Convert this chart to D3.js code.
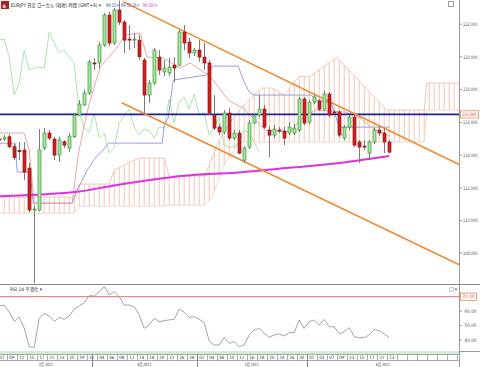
<!DOCTYPE html>
<html><head><meta charset="utf-8">
<script src="https://cdn.jsdelivr.net/npm/d3@7"></script>
<style>html,body{margin:0;padding:0;background:#fff;}svg{display:block;font-family:"DejaVu Sans","Noto Sans CJK JP",sans-serif;}</style>
</head><body><svg id="c" width="480" height="367"></svg>
<script>
// ---- data ----
const dayLabels = ["07","09","11","15","17","21","23","25","29","31","04","06","08","12","14","18","20","22","26","28","02","04","06","10","12","16","18","20","24","26","30","01","03","07","09","13","15","17","21","23"];
const months = ["3月 2011","4月 2011","5月 2011","6月 2011"];
const monthStartSlot = [-0.5, 18.5, 39.5, 61.5];
const openP  = [114.98,114.98,115.12,114.51,114.28,114.31,113.20,110.64,110.64,114.43,115.35,114.98,114.00,114.81,114.43,115.12,116.45,117.06,117.79,119.63,119.63,120.73,122.56,120.85,122.87,122.13,121.09,121.03,121.03,119.81,117.67,118.40,119.99,119.08,119.02,119.50,119.50,121.52,120.91,120.24,120.42,119.99,119.63,116.45,115.71,115.41,116.57,115.04,115.35,113.69,114.49,115.96,116.45,116.81,115.53,115.22,115.53,115.47,115.35,115.35,115.53,117.43,116.02,117.24,117.30,116.81,117.73,116.63,116.63,115.04,115.71,116.32,114.80,114.55,114.12,114.80,115.53,115.35,114.80];
const highP  = [115.10,115.22,115.28,114.67,114.80,114.80,113.51,110.94,115.59,115.65,115.53,115.12,115.12,114.92,115.35,116.57,117.36,117.98,119.81,119.93,120.91,122.68,122.75,122.98,123.45,122.26,121.95,121.46,121.34,119.93,118.59,120.54,120.42,119.81,119.93,119.99,121.65,121.95,121.16,120.54,121.03,120.85,119.81,117.67,115.90,116.75,116.87,115.53,115.53,114.55,116.14,116.51,117.67,117.06,115.77,115.83,115.71,115.71,116.02,115.90,117.55,117.55,117.36,117.67,117.43,117.93,117.85,116.75,116.75,115.83,116.45,116.45,114.92,114.92,114.92,115.65,115.77,115.65,114.92];
const lowP   = [114.86,114.86,114.43,113.69,113.69,112.47,110.51,106.17,110.57,114.31,114.92,113.69,113.59,114.43,114.20,115.04,116.39,116.99,117.67,119.20,119.32,120.61,120.67,120.73,121.95,120.24,120.42,120.54,119.81,116.57,117.18,118.28,118.89,118.83,118.83,118.47,119.44,120.42,119.93,120.05,119.69,119.20,116.45,115.53,115.22,115.28,114.92,114.92,114.06,113.51,114.37,115.90,116.32,115.59,113.88,115.04,115.35,114.61,115.22,115.22,115.41,115.83,115.90,117.12,116.69,116.69,116.32,116.51,115.10,114.92,115.53,114.49,113.51,114.31,113.69,114.67,115.16,114.12,114.12];
const closeP = [114.95,115.06,114.51,113.86,114.21,112.96,110.64,110.70,114.31,115.35,115.04,114.00,114.92,114.61,115.16,116.45,117.12,117.79,119.69,119.60,120.73,122.56,120.85,122.87,122.13,121.03,121.03,121.09,120.01,117.67,118.40,120.42,119.20,119.32,119.38,119.32,121.52,120.85,120.24,120.42,119.99,119.63,116.57,115.65,115.41,116.57,115.04,115.35,114.12,114.43,115.96,116.39,116.81,115.71,115.22,115.59,115.50,115.04,115.71,115.65,117.43,115.96,117.24,117.55,116.81,117.73,116.45,116.60,115.22,115.71,116.32,114.61,114.49,114.52,114.80,115.53,115.35,114.80,114.18];
const rsiV = [63.6,64.2,59.4,52.7,55.9,48.3,35.4,34.9,55.0,58.5,56.6,52.7,55.7,54.3,56.6,61.3,63.6,65.8,70.7,70.5,73.5,76.9,71.2,73.5,70.0,64.2,64.2,63.1,57.3,48.1,50.4,55.0,52.7,53.4,53.9,54.3,61.5,59.2,55.7,56.1,54.3,52.0,39.3,36.5,36.5,41.9,37.7,38.8,35.4,36.5,43.5,46.9,48.1,44.6,41.9,43.5,44.2,42.8,45.1,45.1,53.9,48.1,52.7,53.9,50.4,54.3,49.2,49.2,44.2,45.8,48.5,42.3,41.6,41.6,43.5,47.4,46.4,44.2,41.6];
// indicator lines: [slot, price]
const tenkan = [[0,115.35],[5,115.35],[6,114.31],[7,111.06],[14.6,111.06],[15.8,114.00],[17.2,116.14],[18.2,117.36],[20.2,119.38],[23.2,120.42],[25.2,121.34],[28.2,121.46],[29.6,119.99],[32.8,119.93],[36.2,119.32],[38.2,119.63],[41.2,119.02],[42.8,118.59],[45.8,117.36],[48.8,116.87],[51.2,116.14],[53.2,115.53],[58.2,115.41],[60.2,116.14],[63.2,116.75],[69.2,116.63],[72.2,116.26],[74.6,115.65],[78,115.16]];
const kijun = [[0,114.73],[3.2,114.73],[3.6,112.96],[6.2,112.96],[6.8,111.06],[14.6,111.06],[15.6,111.86],[16.6,112.47],[17.6,113.08],[19.2,113.82],[20.8,114.31],[21.8,114.73],[32.6,114.73],[33,115.83],[33.8,116.26],[34.8,118.59],[41.4,118.89],[42.8,119.44],[47.8,119.44],[49,118.46],[50,117.85],[51,117.67],[62.4,117.67],[63.4,117.36],[66.4,117.18],[67,116.63],[68,115.71],[78,115.71]];
const ma200 = [[0,111.49],[16,111.77],[20,111.98],[26,112.29],[32,112.56],[40,112.81],[48,112.94],[58,113.22],[68,113.51],[78,113.94]];
const cloudTop = [[0,111.43],[15,111.43],[16,112.23],[22,112.23],[23,113.08],[27,113.69],[28,113.82],[33,113.82],[34,112.72],[41,112.72],[42,113.39],[44,114.92],[46.5,116.14],[48,116.75],[51,117.67],[52.5,118.10],[54.5,118.10],[57,117.67],[60,118.83],[62,118.77],[67.5,119.99],[77.5,116.75],[85,116.75],[85.5,118.40],[92,118.40]];
const cloudBottom = [[0,110.45],[15,110.45],[16,110.88],[33,110.88],[34,110.94],[41,110.94],[42.5,111.37],[45,113.39],[48,114.80],[85,114.80],[85.5,116.75],[92,116.75]];
const level = 116.488;
const upperChannel = [[24.76,123.38],[92,113.43]];
const lowerChannel = [[24.5,117.20],[92,107.30]];
const priceTicks = [108,110,112,114,116,118,120,122];
const rsiTicks = [60,50,40];
const rsiLevel = 70;

// ---- layout ----
const svg = d3.select('#c');
const PR = 459, PB = 284, RT = 285, RB = 351;
const x = d3.scaleLinear().domain([0, 90]).range([-0.8, 449.2]);
const y = d3.scaleLinear().domain([106.12, 123.48]).range([PB, 0]);
const yr = d3.scaleLinear().domain([40, 70]).range([340, 296.7]);

// text squeezed horizontally to a target width (keeps glyph height)
function txt(g, tx, ty, s, size, fill, len, anchor){
  const t = g.append('text').attr('x',0).attr('y',0).text(s).attr('font-size',size).attr('fill',fill);
  let sx = 1;
  if (len){ const w = t.node().getComputedTextLength(); if (w > 0) sx = len / w; }
  if (anchor) t.attr('text-anchor',anchor);
  t.attr('transform', `translate(${tx},${ty}) scale(${sx},1)`);
  return t;
}

svg.append('rect').attr('width',480).attr('height',367).attr('fill','#fff');
const defs = svg.append('defs');
defs.append('clipPath').attr('id','cm').append('rect').attr('x',0).attr('y',0).attr('width',PR).attr('height',PB);
defs.append('clipPath').attr('id','cr').append('rect').attr('x',0).attr('y',RT).attr('width',PR).attr('height',RB-RT);
const pat = defs.append('pattern').attr('id','hatch').attr('patternUnits','userSpaceOnUse')
  .attr('width',5).attr('height',4).attr('x', x(0)-2.5).attr('y',0);
pat.append('line').attr('x1',2.5).attr('x2',2.5).attr('y1',0).attr('y2',4).attr('stroke','#f1c6b3').attr('stroke-width',1);

const main = svg.append('g').attr('clip-path','url(#cm)');
const line = d3.line().x(d=>x(d[0])).y(d=>y(d[1]));

// cloud
const poly = cloudTop.concat(cloudBottom.slice().reverse());
main.append('path').attr('d', line(poly)+'Z').attr('fill','url(#hatch)').attr('stroke','none');
main.append('path').attr('d', line(cloudTop)).attr('fill','none').attr('stroke','#efc8b8').attr('stroke-width',1);
main.append('path').attr('d', line(cloudBottom)).attr('fill','none').attr('stroke','#f2d6ca').attr('stroke-width',1);

// chikou (closes shifted back 26)
const chikou = closeP.map((c,i)=>[i-26,c]);
main.append('path').attr('d', line(chikou)).attr('fill','none').attr('stroke','#ade4ad').attr('stroke-width',1);
// kijun, tenkan
main.append('path').attr('d', line(kijun)).attr('fill','none').attr('stroke','#9c9cdc').attr('stroke-width',1);
main.append('path').attr('d', line(tenkan)).attr('fill','none').attr('stroke','#eca6a6').attr('stroke-width',1);
// MA200
main.append('path').attr('d', d3.line().x(d=>x(d[0])).y(d=>y(d[1])).curve(d3.curveMonotoneX)(ma200))
  .attr('fill','none').attr('stroke','#e030e0').attr('stroke-width',2);
// level
main.append('line').attr('x1',0).attr('x2',PR).attr('y1',y(level)).attr('y2',y(level)).attr('stroke','#1d1d9e').attr('stroke-width',1.6);
// channel
[upperChannel, lowerChannel].forEach(c=>{
  main.append('path').attr('d', line(c)).attr('fill','none').attr('stroke','#f08a30').attr('stroke-width',1.6);
});
// candles
const idx = d3.range(closeP.length);
main.selectAll('line.w').data(idx).enter().append('line')
  .attr('x1',i=>Math.round(x(i))+0.5).attr('x2',i=>Math.round(x(i))+0.5)
  .attr('y1',i=>y(highP[i])).attr('y2',i=>y(lowP[i])).attr('stroke','#7a7a7a').attr('stroke-width',1);
main.selectAll('rect.b').data(idx).enter().append('rect')
  .attr('x',i=>Math.round(x(i))-1)
  .attr('width',3)
  .attr('y',i=>y(Math.max(openP[i],closeP[i])))
  .attr('height',i=>Math.max(1, Math.abs(y(openP[i])-y(closeP[i]))))
  .attr('fill',i=>closeP[i]>=openP[i]?'#a6e39c':'#cc1f1f')
  .attr('stroke',i=>closeP[i]>=openP[i]?'#3d9a3d':'#9a1515')
  .attr('stroke-width',0.7);

// right axis (main)
svg.append('line').attr('x1',PR+0.5).attr('x2',PR+0.5).attr('y1',0).attr('y2',367).attr('stroke','#9a9a9a');
const ax = svg.append('g');
priceTicks.forEach(t=>{
  ax.append('line').attr('x1',PR).attr('x2',PR+3).attr('y1',y(t)).attr('y2',y(t)).attr('stroke','#999');
  txt(ax, 463, y(t)+1.7, t.toFixed(3), 4.8, '#555', 14.5);
});
ax.append('rect').attr('x',460.5).attr('y',y(level)-3.6).attr('width',18).attr('height',7.2).attr('fill','#fff').attr('stroke','#e6865a').attr('stroke-width',0.8);
txt(ax, 462, y(level)+1.7, level.toFixed(3), 4.8, '#d8552a', 14.5);

// header
const hd = svg.append('g');
hd.append('rect').attr('x',1).attr('y',1).attr('width',8).attr('height',8).attr('fill','#b02020');
txt(hd, 2.6, 7.3, '▲', 4.5, '#fff');
txt(hd, 11, 6.8, 'EURJPY 日足 ローカル (現地) 時間 (GMT+9) ▾', 5, '#333', 90);
txt(hd, 106, 6.8, 'MA 26 ▾', 5, '#3a4fc0', 12.5);
txt(hd, 121, 6.8, 'MA 52, 26 ▾', 5, '#3a4fc0', 18);
txt(hd, 143, 6.8, 'MA 200 ▾', 5, '#d030d0', 14);
svg.append('rect').attr('x',448.5).attr('y',1.5).attr('width',5).attr('height',5).attr('fill','#fff').attr('stroke','#777').attr('stroke-width',0.7);

// RSI panel
svg.append('line').attr('x1',0).attr('x2',480).attr('y1',RT-0.5).attr('y2',RT-0.5).attr('stroke','#8a8a8a');
const rp = svg.append('g').attr('clip-path','url(#cr)');
rp.append('line').attr('x1',0).attr('x2',PR).attr('y1',yr(rsiLevel)).attr('y2',yr(rsiLevel)).attr('stroke','#d87070').attr('stroke-width',1);
rp.append('path').attr('d', d3.line().x((d,i)=>x(i)).y(d=>yr(d))(rsiV)).attr('fill','none').attr('stroke','#9a9a9a').attr('stroke-width',0.9);
txt(svg, 10, 291, 'RSI 14 平滑化 ▾', 4.8, '#333', 32);
txt(svg, 449, 291, '□×', 5.5, '#333', 9);
rsiTicks.forEach(t=>{
  svg.append('line').attr('x1',PR).attr('x2',PR+3).attr('y1',yr(t)).attr('y2',yr(t)).attr('stroke','#999');
  txt(svg, 464.5, yr(t)+1.7, t.toFixed(2), 4.8, '#555', 12);
});
svg.append('rect').attr('x',460.5).attr('y',yr(rsiLevel)-3.6).attr('width',16).attr('height',7.2).attr('fill','#fff').attr('stroke','#e6865a').attr('stroke-width',0.8);
txt(svg, 462.5, yr(rsiLevel)+1.7, rsiLevel.toFixed(2), 4.8, '#d8552a', 12);

// green strip
svg.append('rect').attr('x',0).attr('y',RB).attr('width',PR).attr('height',3).attr('fill','#d5ead5');
// x axis
const xa = svg.append('g');
const rowT = 354, rowM = 360.5, rowB = 367;
xa.append('line').attr('x1',0).attr('x2',PR).attr('y1',rowT+0.5).attr('y2',rowT+0.5).attr('stroke','#aaa');
xa.append('line').attr('x1',0).attr('x2',PR).attr('y1',rowM).attr('y2',rowM).attr('stroke','#aaa');
for (let k=0;k<46;k++){
  const xs = x(2*k+1.5);
  if (xs < PR) xa.append('line').attr('x1',Math.round(xs)+0.5).attr('x2',Math.round(xs)+0.5).attr('y1',rowT).attr('y2',rowM).attr('stroke','#999').attr('stroke-width',0.8);
  if (k < dayLabels.length){
    txt(xa, x(2*k+0.5), rowT+5, dayLabels[k], 4.5, '#333', 5, 'middle');
  }
}
monthStartSlot.forEach((s,j)=>{
  const x0 = Math.max(0, x(s));
  const x1 = j<monthStartSlot.length-1 ? x(monthStartSlot[j+1]) : PR;
  if (j>0) xa.append('line').attr('x1',Math.round(x0)+0.5).attr('x2',Math.round(x0)+0.5).attr('y1',rowT).attr('y2',rowB).attr('stroke','#888');
  txt(xa, (x0+x1)/2, rowB-1.3, months[j], 4.5, '#333', 14, 'middle');
});
svg.append('line').attr('x1',PR).attr('x2',480).attr('y1',RB+0.5).attr('y2',RB+0.5).attr('stroke','#999');
</script></body></html>
